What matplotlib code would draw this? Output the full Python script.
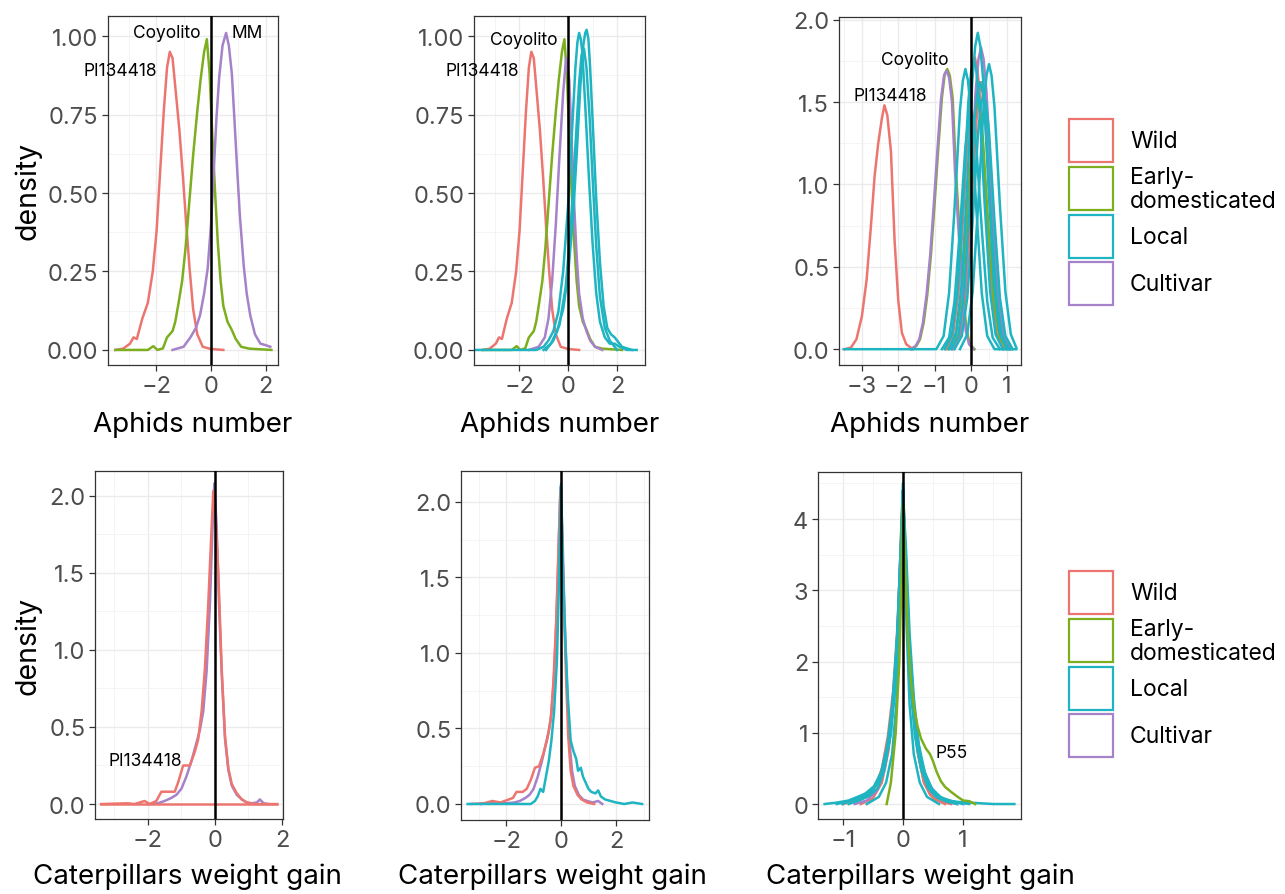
import matplotlib
matplotlib.use("Agg")
import matplotlib.pyplot as plt
from matplotlib.patches import Rectangle

plt.rcParams['font.family'] = ['Inter', 'DejaVu Sans']

W, H = 1285, 895

groups = ["Wild", "Early-\ndomesticated", "Local", "Cultivar"]
colors = {"Wild": "#EC766F", "Early-\ndomesticated": "#7CAE1E",
          "Local": "#1FB4C1", "Cultivar": "#A582C9"}

# ---- Aphids number, panel 1 & 2 (same accessions) ----
aph_wild_x = [-3.48, -3.2, -2.95, -2.82, -2.7, -2.5, -2.3, -2.12, -1.98, -1.85, -1.72, -1.6, -1.5,
              -1.4, -1.28, -1.15, -1.02, -0.9, -0.78, -0.65, -0.5, -0.3, 0.0, 0.45]
aph_wild_y = [0.0, 0.004, 0.02, 0.04, 0.035, 0.10, 0.15, 0.25, 0.38, 0.57, 0.76, 0.90, 0.95,
              0.93, 0.82, 0.70, 0.55, 0.40, 0.26, 0.13, 0.05, 0.01, 0.003, 0.0]
aph_early_x = [-3.48, -2.3, -2.1, -1.95, -1.75, -1.6, -1.5, -1.4, -1.3, -1.18, -1.05, -0.92, -0.8,
               -0.65, -0.5, -0.38, -0.25, -0.15, -0.05, 0.05, 0.15, 0.25, 0.35, 0.45, 0.6, 0.75,
               0.9, 1.1, 1.4, 2.2]
aph_early_y = [0, 0, 0.012, 0.0, 0.005, 0.04, 0.05, 0.06, 0.09, 0.15, 0.22, 0.33, 0.46,
               0.62, 0.76, 0.86, 0.95, 0.99, 0.88, 0.68, 0.50, 0.34, 0.22, 0.14, 0.09, 0.065,
               0.035, 0.01, 0.004, 0.0]
aph_mm_x = [-1.4, -1.0, -0.75, -0.55, -0.4, -0.25, -0.12, 0.0, 0.1, 0.2, 0.3, 0.42, 0.55, 0.65,
            0.76, 0.85, 0.95, 1.05, 1.19, 1.3, 1.43, 1.6, 1.8, 2.0, 2.16]
aph_mm_y = [0, 0.01, 0.04, 0.07, 0.11, 0.18, 0.26, 0.40, 0.57, 0.74, 0.87, 0.97, 1.01, 0.97,
            0.88, 0.74, 0.58, 0.43, 0.27, 0.18, 0.11, 0.05, 0.02, 0.015, 0.01]

p2_cult_x = [-1.6, -1.2, -0.95, -0.8, -0.65, -0.5, -0.35, -0.2, -0.08, 0.05, 0.15, 0.25, 0.35,
             0.45, 0.6, 0.75, 0.9, 1.1, 1.4]
p2_cult_y = [0, 0.01, 0.04, 0.10, 0.22, 0.40, 0.62, 0.82, 0.93, 0.86, 0.66, 0.46, 0.30,
             0.18, 0.10, 0.06, 0.03, 0.01, 0]
p2_local_x = [
    [-3.84, -1.3, -1.0, -0.8, -0.6, -0.4, -0.2, 0.0, 0.15, 0.3, 0.38, 0.45, 0.52, 0.58, 0.7,
     0.85, 1.0, 1.15, 1.3, 1.5, 1.7, 1.9, 2.1, 2.4, 2.8],
    [-1.0, -0.7, -0.45, -0.2, 0.0, 0.2, 0.35, 0.5, 0.62, 0.7, 0.76, 0.83, 0.9, 1.02, 1.15,
     1.3, 1.45, 1.6, 1.75, 1.9, 2.0, 2.2, 2.6],
    [-0.9, -0.6, -0.35, -0.1, 0.1, 0.3, 0.45, 0.55, 0.65, 0.75, 0.88, 1.0, 1.15, 1.3, 1.5,
     1.7, 2.0],
]
p2_local_y = [
    [0, 0, 0.01, 0.03, 0.06, 0.12, 0.25, 0.46, 0.68, 0.90, 0.98, 1.01, 0.99, 0.95, 0.78,
     0.55, 0.34, 0.18, 0.09, 0.04, 0.02, 0.02, 0.01, 0.0, 0.0],
    [0, 0.02, 0.06, 0.13, 0.24, 0.42, 0.62, 0.84, 0.97, 1.01, 1.02, 0.99, 0.90, 0.70, 0.48,
     0.28, 0.14, 0.07, 0.05, 0.04, 0.03, 0.01, 0],
    [0, 0.03, 0.08, 0.20, 0.38, 0.65, 0.85, 0.94, 0.96, 0.90, 0.74, 0.55, 0.33, 0.17, 0.07,
     0.03, 0],
]

# ---- Aphids number, panel 3 ----
p3_wild_x = [[-3.47, -3.3, -3.15, -3.0, -2.87, -2.75, -2.65, -2.55, -2.45, -2.38, -2.3, -2.2,
              -2.1, -2.0, -1.9, -1.78, -1.6],
             [-0.69, -0.49, -0.34, -0.19, -0.04, 0.04, 0.11, 0.18, 0.26, 0.41, 0.56, 0.71, 0.91],
             [-0.5, -0.3, -0.15, 0.0, 0.15, 0.23, 0.3, 0.37, 0.45, 0.6, 0.75, 0.9, 1.1]]
p3_wild_y = [[0, 0.01, 0.06, 0.2, 0.42, 0.75, 1.05, 1.25, 1.40, 1.48, 1.42, 1.20, 0.66, 0.30,
              0.10, 0.03, 0],
             [0, 0.09, 0.35, 0.89, 1.50, 1.70, 1.77, 1.70, 1.50, 0.89, 0.35, 0.09, 0],
             [0, 0.08, 0.32, 0.81, 1.38, 1.56, 1.62, 1.56, 1.38, 0.81, 0.32, 0.08, 0]]
p3_early_x = [[-1.63, -1.5, -1.4, -1.3, -1.2, -1.1, -1.0, -0.9, -0.8, -0.72, -0.65, -0.58, -0.5,
               -0.42, -0.35, -0.28, -0.2, -0.12, -0.03, 0.1],
              [-0.62, -0.42, -0.27, -0.12, 0.03, 0.11, 0.18, 0.25, 0.33, 0.48, 0.63, 0.78, 0.98]]
p3_early_y = [[0, 0.02, 0.06, 0.16, 0.33, 0.57, 0.88, 1.21, 1.52, 1.67, 1.70, 1.66, 1.52,
               1.12, 0.85, 0.60, 0.30, 0.12, 0.03, 0],
              [0, 0.08, 0.30, 0.75, 1.28, 1.44, 1.50, 1.44, 1.28, 0.75, 0.30, 0.08, 0]]
p3_cult_x = [[-1.65, -1.52, -1.42, -1.32, -1.22, -1.12, -1.02, -0.92, -0.82, -0.74, -0.67, -0.6,
              -0.52, -0.44, -0.37, -0.3, -0.22, -0.14, -0.05, 0.08],
             [-0.52, -0.32, -0.17, -0.02, 0.13, 0.21, 0.28, 0.35, 0.43, 0.58, 0.73, 0.88, 1.08]]
p3_cult_y = [[0, 0.02, 0.06, 0.16, 0.33, 0.57, 0.88, 1.21, 1.52, 1.66, 1.69, 1.65, 1.50,
              1.10, 0.83, 0.58, 0.29, 0.11, 0.03, 0],
             [0, 0.09, 0.37, 0.92, 1.56, 1.76, 1.83, 1.76, 1.56, 0.92, 0.37, 0.09, 0]]
p3_local_x = [
    [-3.5, -0.95, -0.75, -0.6, -0.45, -0.3, -0.22, -0.15, -0.08, 0.0, 0.15, 0.3, 0.45, 0.65, 1.25],
    [-0.61, -0.41, -0.26, -0.11, 0.04, 0.12, 0.19, 0.26, 0.34, 0.49, 0.64, 0.79, 0.99],
    [-0.3, -0.1, 0.05, 0.2, 0.35, 0.43, 0.5, 0.57, 0.65, 0.8, 0.95, 1.1, 1.25],
    [-0.72, -0.52, -0.37, -0.22, -0.07, 0.01, 0.08, 0.15, 0.23, 0.38, 0.53, 0.68, 0.88],
    [-0.55, -0.35, -0.2, -0.05, 0.1, 0.18, 0.25, 0.32, 0.4, 0.55, 0.7, 0.85, 1.05],
    [-0.45, -0.25, -0.1, 0.05, 0.2, 0.28, 0.35, 0.42, 0.5, 0.65, 0.8, 0.95, 1.15],
    [-0.8, -0.6, -0.45, -0.3, -0.15, -0.07, 0.0, 0.07, 0.15, 0.3, 0.45, 0.6, 0.8],
]
p3_local_y = [
    [0, 0, 0.08, 0.34, 0.85, 1.45, 1.63, 1.70, 1.63, 1.45, 0.85, 0.34, 0.08, 0, 0],
    [0, 0.10, 0.38, 0.96, 1.63, 1.84, 1.92, 1.84, 1.63, 0.96, 0.38, 0.10, 0],
    [0, 0.09, 0.35, 0.87, 1.47, 1.66, 1.73, 1.66, 1.47, 0.87, 0.35, 0.09, 0.01],
    [0, 0.09, 0.35, 0.88, 1.50, 1.69, 1.76, 1.69, 1.50, 0.88, 0.35, 0.09, 0],
    [0, 0.08, 0.32, 0.81, 1.38, 1.56, 1.62, 1.56, 1.38, 0.81, 0.32, 0.08, 0],
    [0, 0.08, 0.31, 0.78, 1.32, 1.49, 1.55, 1.49, 1.32, 0.78, 0.31, 0.08, 0],
    [0, 0.07, 0.29, 0.73, 1.23, 1.39, 1.45, 1.39, 1.23, 0.73, 0.29, 0.07, 0],
]

# ---- Caterpillars weight gain, panel 4 ----
p4_wild_x = [[-3.4, -2.6, -2.4, -2.1, -1.95, -1.75, -1.6, -1.45, -1.2, -1.1, -0.95, -0.75, -0.6,
              -0.5, -0.4, -0.3, -0.2, -0.12, -0.05, 0.02, 0.1, 0.2, 0.3, 0.4, 0.5, 0.65, 0.8,
              0.95, 1.2, 1.85],
             [-3.4, 1.85]]
p4_wild_y = [[0.0, 0.005, 0.0, 0.02, 0.0, 0.02, 0.08, 0.08, 0.08, 0.14, 0.25, 0.25, 0.34,
              0.42, 0.60, 0.88, 1.30, 1.70, 2.03, 1.85, 1.50, 0.88, 0.44, 0.23, 0.13, 0.07, 0.03,
              0.01, 0.0, 0.0],
             [0, 0]]
p4_cult_x = [-2.0, -1.7, -1.5, -1.3, -1.15, -1.0, -0.85, -0.7, -0.55, -0.45, -0.35, -0.25, -0.15,
             -0.08, -0.02, 0.05, 0.12, 0.2, 0.3, 0.4, 0.5, 0.65, 0.8, 0.95, 1.1, 1.25, 1.34,
             1.45, 1.6]
p4_cult_y = [0, 0.005, 0.02, 0.04, 0.06, 0.10, 0.18, 0.28, 0.40, 0.48, 0.60, 0.86, 1.30,
             1.75, 2.08, 1.80, 1.30, 0.85, 0.42, 0.22, 0.12, 0.06, 0.03, 0.01, 0.005, 0.01,
             0.03, 0.005, 0]

# ---- Caterpillars weight gain, panel 5 ----
p5_wild_x = [-3.3, -2.8, -2.5, -2.2, -1.9, -1.75, -1.62, -1.4, -1.25, -1.1, -0.95, -0.8, -0.65,
             -0.5, -0.38, -0.28, -0.18, -0.1, -0.03, 0.03, 0.1, 0.18, 0.26, 0.35, 0.45, 0.6,
             0.75, 0.95, 1.2]
p5_wild_y = [0, 0.005, 0.02, 0.01, 0.03, 0.04, 0.08, 0.08, 0.1, 0.16, 0.24, 0.25, 0.33,
             0.43, 0.55, 0.80, 1.20, 1.65, 2.05, 1.8, 1.35, 0.85, 0.45, 0.22, 0.12, 0.06,
             0.03, 0.01, 0]
p5_cult_x = [-2.9, -2.5, -2.0, -1.7, -1.5, -1.3, -1.15, -1.0, -0.85, -0.7, -0.55, -0.45, -0.35,
             -0.25, -0.15, -0.08, -0.02, 0.05, 0.12, 0.2, 0.3, 0.4, 0.5, 0.65, 0.8, 0.95, 1.15,
             1.35, 1.5]
p5_cult_y = [0, 0.01, 0.005, 0.01, 0.02, 0.04, 0.06, 0.10, 0.18, 0.28, 0.40, 0.48, 0.60,
             0.86, 1.30, 1.75, 2.10, 1.80, 1.30, 0.85, 0.42, 0.22, 0.12, 0.06, 0.03, 0.02, 0.01,
             0.02, 0]
p5_local_x = [-3.4, -1.1, -0.95, -0.85, -0.75, -0.65, -0.55, -0.45, -0.35, -0.25, -0.15, -0.07,
              0.0, 0.07, 0.15, 0.25, 0.35, 0.45, 0.55, 0.62, 0.72, 0.8, 0.9, 1.0, 1.1, 1.25,
              1.35, 1.45, 1.6, 1.8, 2.0, 2.3, 2.6, 2.95]
p5_local_y = [0, 0, 0.02, 0.05, 0.10, 0.08, 0.18, 0.28, 0.42, 0.62, 0.95, 1.50,
              2.12, 1.55, 1.10, 0.70, 0.42, 0.35, 0.30, 0.22, 0.24, 0.18, 0.14, 0.10, 0.08, 0.07,
              0.09, 0.05, 0.03, 0.02, 0.01, 0.0, 0.01, 0.0]

# ---- Caterpillars weight gain, panel 6 ----
p6_wild_x = [[-1.0, -0.8, -0.6, -0.45, -0.35, -0.25, -0.16, -0.09, -0.03, 0.0, 0.03, 0.09, 0.16,
              0.25, 0.35, 0.45, 0.6, 0.8],
             [-0.7, -0.5, -0.35, -0.24, -0.15, -0.08, -0.03, 0.0, 0.03, 0.08, 0.15, 0.24, 0.35,
              0.5, 0.7]]
p6_wild_y = [[0, 0.04, 0.1, 0.25, 0.5, 0.95, 1.6, 2.5, 3.7, 4.3, 3.7, 2.4, 1.4,
              0.7, 0.3, 0.13, 0.04, 0],
             [0, 0.08, 0.3, 0.75, 1.5, 2.6, 3.8, 4.4, 3.8, 2.6, 1.5, 0.75, 0.3, 0.08, 0]]
p6_early_x = [-0.27, -0.2, -0.12, -0.06, -0.02, 0.0, 0.03, 0.08, 0.13, 0.18, 0.24, 0.3, 0.38,
              0.45, 0.5, 0.56, 0.63, 0.7, 0.8, 0.91, 1.0, 1.1, 1.2]
p6_early_y = [0, 0.3, 1.0, 2.0, 3.3, 4.2, 3.5, 2.4, 1.75, 1.38, 1.1, 0.92, 0.78,
              0.70, 0.6, 0.45, 0.32, 0.24, 0.17, 0.1, 0.05, 0.04, 0.0]
p6_cult_x = [-0.8, -0.6, -0.42, -0.3, -0.2, -0.11, -0.05, 0.0, 0.05, 0.11, 0.2, 0.3, 0.42, 0.55,
             0.7, 0.9]
p6_cult_y = [0, 0.05, 0.2, 0.5, 1.0, 2.0, 3.3, 4.2, 3.4, 2.2, 1.2, 0.6, 0.3, 0.12, 0.04, 0]
p6_local_x = [
    [-1.3, -1.1, -0.9, -0.75, -0.6, -0.5, -0.4, -0.3, -0.2, -0.12, -0.06, -0.02, 0.0, 0.02, 0.06,
     0.12, 0.2, 0.3, 0.4, 0.5, 0.6, 0.75, 0.9, 1.1, 1.3, 1.5, 1.85],
    [-0.9, -0.7, -0.55, -0.42, -0.32, -0.22, -0.14, -0.08, -0.03, 0.0, 0.03, 0.08, 0.14, 0.22,
     0.32, 0.42, 0.55, 0.7, 0.9],
    [-1.1, -0.85, -0.65, -0.5, -0.38, -0.27, -0.18, -0.1, -0.04, 0.0, 0.04, 0.1, 0.18, 0.27,
     0.38, 0.5, 0.65, 0.85, 1.1],
    [-0.6, -0.4, -0.28, -0.18, -0.11, -0.06, -0.02, 0.0, 0.02, 0.06, 0.11, 0.18, 0.28, 0.4, 0.6],
    [-1.0, -0.8, -0.62, -0.48, -0.36, -0.25, -0.16, -0.09, -0.03, 0.01, 0.05, 0.11, 0.18, 0.26,
     0.36, 0.48, 0.62, 0.8, 1.0],
]
p6_local_y = [
    [0, 0.02, 0.05, 0.1, 0.13, 0.2, 0.32, 0.55, 1.0, 1.7, 2.8, 3.9, 4.4, 3.9, 2.8,
     1.7, 0.95, 0.5, 0.28, 0.15, 0.08, 0.05, 0.03, 0.02, 0.01, 0.0, 0.0],
    [0, 0.06, 0.12, 0.22, 0.45, 0.9, 1.6, 2.6, 3.8, 4.5, 3.8, 2.6, 1.6, 0.9, 0.45, 0.22, 0.1,
     0.04, 0],
    [0, 0.05, 0.1, 0.2, 0.38, 0.75, 1.35, 2.3, 3.5, 4.3, 3.5, 2.3, 1.35, 0.75, 0.38, 0.18, 0.08,
     0.03, 0],
    [0, 0.1, 0.3, 0.7, 1.4, 2.5, 3.8, 4.4, 3.8, 2.5, 1.4, 0.7, 0.3, 0.1, 0],
    [0, 0.08, 0.15, 0.25, 0.45, 0.85, 1.5, 2.4, 3.6, 4.2, 3.6, 2.4, 1.5, 0.85, 0.45, 0.22, 0.1,
     0.04, 0],
]


def pix_axes(fig, left, top, right, bottom):
    return fig.add_axes([left / W, 1 - bottom / H, (right - left) / W, (bottom - top) / H])


def style_axes(ax, xlim, ylim, xticks, xminor, yticks, yminor, ylabels):
    ax.set_xlim(*xlim)
    ax.set_ylim(*ylim)
    ax.set_xticks(xticks)
    ax.set_xticklabels([("\u2212" + str(abs(t))) if t < 0 else str(t) for t in xticks])
    ax.set_xticks(xminor, minor=True)
    ax.set_yticks(yticks)
    ax.set_yticklabels(ylabels)
    ax.set_yticks(yminor, minor=True)
    ax.grid(which="major", color="#EBEBEB", lw=1.0, zorder=0)
    ax.grid(which="minor", color="#F3F3F3", lw=0.6, zorder=0)
    ax.set_axisbelow(True)
    ax.tick_params(which="major", length=4, width=0.9, color="#333333",
                   labelsize=17, labelcolor="#4D4D4D", pad=3)
    ax.tick_params(which="minor", length=0)
    for s in ax.spines.values():
        s.set_color("#333333")
        s.set_linewidth(0.9)


def draw(ax, curves):
    for grp, xs, ys in curves:
        ax.plot(xs, ys, color=colors[grp], lw=1.8, solid_joinstyle="round", zorder=2)
    ax.axvline(0, color="black", lw=1.8, zorder=3)


fig = plt.figure(figsize=(W / 100, H / 100), dpi=100)
fig.patch.set_facecolor("white")

yl_top = ["0.00", "0.25", "0.50", "0.75", "1.00"]
yt_top = [0, 0.25, 0.5, 0.75, 1.0]
ym_top = [0.125, 0.375, 0.625, 0.875]
lab_fs = 12.5

# panel 1
ax1 = pix_axes(fig, 108, 17, 278, 366)
style_axes(ax1, (-3.75, 2.44), (-0.048, 1.064), [-2, 0, 2], [-3, -1, 1], yt_top, ym_top, yl_top)
draw(ax1, [("Wild", aph_wild_x, aph_wild_y),
           ("Early-\ndomesticated", aph_early_x, aph_early_y),
           ("Cultivar", aph_mm_x, aph_mm_y)])
ax1.text(-1.6, 1.01, "Coyolito", fontsize=lab_fs, ha="center", va="center")
ax1.text(1.31, 1.01, "MM", fontsize=lab_fs, ha="center", va="center")
ax1.text(-3.31, 0.89, "PI134418", fontsize=lab_fs, ha="center", va="center")

# panel 2
ax2 = pix_axes(fig, 474, 17, 645, 366)
style_axes(ax2, (-3.84, 3.14), (-0.048, 1.064), [-2, 0, 2], [-3, -1, 1, 3], yt_top, ym_top, yl_top)
c2 = [("Wild", aph_wild_x, aph_wild_y),
      ("Early-\ndomesticated", aph_early_x, aph_early_y),
      ("Cultivar", p2_cult_x, p2_cult_y)]
c2 += [("Local", xs, ys) for xs, ys in zip(p2_local_x, p2_local_y)]
draw(ax2, c2)
ax2.text(-1.81, 0.99, "Coyolito", fontsize=lab_fs, ha="center", va="center")
ax2.text(-3.49, 0.89, "PI134418", fontsize=lab_fs, ha="center", va="center")

# panel 3
ax3 = pix_axes(fig, 839, 18, 1021, 366)
style_axes(ax3, (-3.63, 1.38), (-0.096, 2.016), [-3, -2, -1, 0, 1],
           [-3.5, -2.5, -1.5, -0.5, 0.5], [0, 0.5, 1.0, 1.5, 2.0], [0.25, 0.75, 1.25, 1.75],
           ["0.0", "0.5", "1.0", "1.5", "2.0"])
c3 = [("Wild", xs, ys) for xs, ys in zip(p3_wild_x, p3_wild_y)]
c3 += [("Early-\ndomesticated", xs, ys) for xs, ys in zip(p3_early_x, p3_early_y)]
c3 += [("Cultivar", xs, ys) for xs, ys in zip(p3_cult_x, p3_cult_y)]
c3 += [("Local", xs, ys) for xs, ys in zip(p3_local_x, p3_local_y)]
draw(ax3, c3)
ax3.text(-1.54, 1.76, "Coyolito", fontsize=lab_fs, ha="center", va="center")
ax3.text(-2.23, 1.54, "PI134418", fontsize=lab_fs, ha="center", va="center")

# panel 4
yl_bot = ["0.0", "0.5", "1.0", "1.5", "2.0"]
ax4 = pix_axes(fig, 95, 472, 283, 820)
style_axes(ax4, (-3.58, 2.03), (-0.097, 2.16), [-2, 0, 2], [-3, -1, 1],
           [0, 0.5, 1.0, 1.5, 2.0], [0.25, 0.75, 1.25, 1.75], yl_bot)
c4 = [("Cultivar", p4_cult_x, p4_cult_y)]
c4 += [("Wild", xs, ys) for xs, ys in zip(p4_wild_x, p4_wild_y)]
draw(ax4, c4)
ax4.text(-2.07, 0.28, "PI134418", fontsize=lab_fs, ha="center", va="center")

# panel 5
ax5 = pix_axes(fig, 461, 472, 649, 821)
style_axes(ax5, (-3.64, 3.2), (-0.106, 2.205), [-2, 0, 2], [-3, -1, 1, 3],
           [0, 0.5, 1.0, 1.5, 2.0], [0.25, 0.75, 1.25, 1.75], yl_bot)
draw(ax5, [("Cultivar", p5_cult_x, p5_cult_y),
           ("Wild", p5_wild_x, p5_wild_y),
           ("Local", p5_local_x, p5_local_y)])

# panel 6
ax6 = pix_axes(fig, 818, 473, 1021, 820)
style_axes(ax6, (-1.41, 1.96), (-0.21, 4.66), [-1, 0, 1], [-0.5, 0.5, 1.5],
           [0, 1, 2, 3, 4], [0.5, 1.5, 2.5, 3.5, 4.5], ["0", "1", "2", "3", "4"])
c6 = [("Wild", xs, ys) for xs, ys in zip(p6_wild_x, p6_wild_y)]
c6 += [("Cultivar", p6_cult_x, p6_cult_y)]
c6 += [("Local", xs, ys) for xs, ys in zip(p6_local_x, p6_local_y)]
c6 += [("Early-\ndomesticated", p6_early_x, p6_early_y)]
draw(ax6, c6)
ax6.text(0.81, 0.73, "P55", fontsize=lab_fs, ha="center", va="center")

# axis titles and legends on a pixel overlay
ov = fig.add_axes([0, 0, 1, 1], facecolor="none")
ov.set_xlim(0, W)
ov.set_ylim(H, 0)
ov.axis("off")

for yc in (191, 646):
    ov.text(28, yc, "density", fontsize=20.5, rotation=90, ha="center", va="center")
for xc, yc, lab in [(193, 425, "Aphids number"), (560, 425, "Aphids number"),
                    (930, 425, "Aphids number"), (187, 877, "Caterpillars weight gain"),
                    (552, 877, "Caterpillars weight gain"), (920, 877, "Caterpillars weight gain")]:
    ov.text(xc, yc, lab, fontsize=20, ha="center", va="center")

key_tops = [120, 168, 216, 263]
for dy in (0, 452):
    for grp, top in zip(groups, key_tops):
        ov.add_patch(Rectangle((1069, top + dy), 44, 43, facecolor="white",
                               edgecolor=colors[grp], lw=1.6))
        ov.text(1130, top + dy + 22, grp, fontsize=16.5, ha="left", va="center",
                linespacing=1.1)

fig.savefig("out.png", dpi=100, facecolor="white")
